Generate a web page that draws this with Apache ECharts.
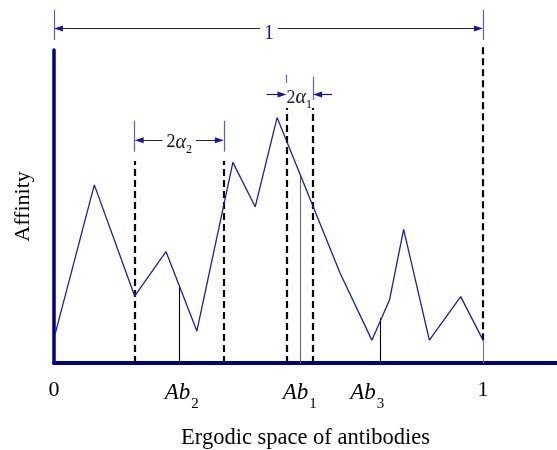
<!DOCTYPE html>
<html>
<head>
<meta charset="utf-8">
<script src="https://cdn.jsdelivr.net/npm/echarts@6/dist/echarts.min.js"></script>
<style>html,body{margin:0;padding:0;background:#fff}#c{width:557px;height:450px}</style>
</head>
<body>
<div id="c"></div>
<script>
// affinity curve over the ergodic space (x: 0..1 is the space width)
const affinityX = [0.002, 0.094, 0.188, 0.261, 0.333, 0.417, 0.469, 0.520, 0.667, 0.741, 0.782, 0.815, 0.875, 0.948, 1.0];
const affinityY = [0.089, 0.569, 0.214, 0.356, 0.102, 0.641, 0.499, 0.784, 0.287, 0.073, 0.201, 0.427, 0.073, 0.212, 0.073];
// dashed boundaries
const dashedX = [0.188, 0.396, 0.542, 0.604, 1.0];
const dashedTop = [0.645, 0.645, 0.815, 0.815, 1.016];
const dashedBottom = [0, 0, 0, 0, 0.073];
// antibody marker lines
const markerX = [0.292, 0.573, 0.761, 1.0];
const markerTop = [0.244, 0.601, 0.144, 0.073];
const markerColor = ['#000', '#666', '#000', '#6a6ac8'];
// tick labels below axis
const tickLabels = ['{n|0}', '{i|Ab}{s|2}', '{i|Ab}{s|1}', '{i|Ab}{s|3}', '{n|1}'];
const tickLabelX = [0, 0.298, 0.573, 0.730, 1.0];
const tickLabelY = -0.088;
// dimension annotations
const dimTicks = [
  [0, 1.128, 1.032], [1.0, 1.128, 1.032],
  [0.188, 0.774, 0.675], [0.396, 0.774, 0.675],
  [0.542, 0.920, 0.895], [0.604, 0.915, 0.840]
];
const arrowsBoth = [[0.0105, 0.9895, 1.069], [0.1985, 0.3855, 0.712]];
const arrowsOne = [[0.496, 0.5315, 0.858], [0.648, 0.6145, 0.858]];
const dimLabels = [
  { text: '{t|1}', x: 0.501, y: 1.051, bg: true },
  { text: '{n|2}{g|α}{s|2}', x: 0.292, y: 0.704, bg: true },
  { text: '{m|2}{g|α}{s|1}', x: 0.5715, y: 0.847, bg: false }
];

const serif = 'Liberation Serif';
const navy = '#00008b';

const chart = echarts.init(document.getElementById('c'), null, { renderer: 'canvas' });
const series = [];

series.push({
  type: 'line',
  data: affinityX.map((x, i) => [x, affinityY[i]]),
  showSymbol: false, symbol: 'none', clip: false, z: 4,
  lineStyle: { color: '#1f1f9e', width: 1.3 },
  animation: false
});

series.push({
  type: 'lines', coordinateSystem: 'cartesian2d', clip: false, z: 3,
  data: dashedX.map((x, i) => ({ coords: [[x, dashedBottom[i]], [x, dashedTop[i]]] })),
  lineStyle: { color: '#000', width: 2.2, type: [7, 4], opacity: 1 },
  animation: false
});

series.push({
  type: 'lines', coordinateSystem: 'cartesian2d', clip: false, z: 3,
  data: markerX.map((x, i) => ({ coords: [[x, 0], [x, markerTop[i]]], lineStyle: { color: markerColor[i] } })),
  lineStyle: { width: 1.1, opacity: 1 },
  animation: false
});

series.push({
  type: 'lines', coordinateSystem: 'cartesian2d', clip: false, z: 3,
  data: dimTicks.map(t => ({ coords: [[t[0], t[1]], [t[0], t[2]]] })),
  lineStyle: { color: '#5c5cc4', width: 1.2, opacity: 1 },
  animation: false
});

series.push({
  type: 'lines', coordinateSystem: 'cartesian2d', clip: false, z: 3,
  symbol: ['triangle', 'triangle'], symbolSize: [[6, 9], [6, 9]],
  data: arrowsBoth.map(a => ({ coords: [[a[0], a[2]], [a[1], a[2]]] })),
  lineStyle: { color: '#1a1a8c', width: 1.2, opacity: 1 },
  animation: false
});

series.push({
  type: 'lines', coordinateSystem: 'cartesian2d', clip: false, z: 3,
  symbol: ['none', 'triangle'], symbolSize: [[6, 9], [6, 9]],
  data: arrowsOne.map(a => ({ coords: [[a[0], a[2]], [a[1], a[2]]] })),
  lineStyle: { color: '#1a1a8c', width: 1.2, opacity: 1 },
  animation: false
});

series.push({
  type: 'scatter', symbolSize: 0, clip: false, z: 6, silent: true,
  itemStyle: { opacity: 1, color: 'transparent' },
  data: tickLabelX.map((x, i) => ({ value: [x, tickLabelY], label: { formatter: tickLabels[i] } })),
  label: {
    show: true, position: 'inside', color: '#000', opacity: 1,
    rich: {
      n: { fontFamily: serif, fontSize: 22, color: '#000' },
      i: { fontFamily: serif, fontSize: 23, fontStyle: 'italic', color: '#000', padding: [4, 0, 0, 0] },
      s: { fontFamily: serif, fontSize: 15, color: '#000', padding: [28, 0, 0, 1] }
    }
  },
  animation: false
});

series.push({
  type: 'scatter', symbolSize: 0, clip: false, z: 7, silent: true,
  itemStyle: { opacity: 1, color: 'transparent' },
  data: dimLabels.map(d => ({
    value: [d.x, d.y],
    label: { formatter: d.text, backgroundColor: d.bg ? '#fff' : 'transparent', padding: d.bg ? [0, 4] : 0 }
  })),
  label: {
    show: true, position: 'inside', color: '#000', opacity: 1,
    rich: {
      t: { fontFamily: serif, fontSize: 20, color: '#1a1a8c' },
      n: { fontFamily: serif, fontSize: 18, color: '#111' },
      m: { fontFamily: serif, fontSize: 18, color: '#1a1a6e' },
      g: { fontFamily: serif, fontSize: 20, fontStyle: 'italic', color: '#111' },
      s: { fontFamily: serif, fontSize: 12, color: '#111', padding: [14, 0, 0, 0] }
    }
  },
  animation: false
});

chart.setOption({
  animation: false,
  backgroundColor: '#fff',
  grid: { left: 54, right: 0, top: 50, bottom: 87, outerBoundsMode: 'none', containLabel: false },
  xAxis: {
    type: 'value', min: 0, max: 503 / 429,
    axisLine: { show: true, lineStyle: { color: navy, width: 4 } },
    axisTick: { show: false }, axisLabel: { show: false }, splitLine: { show: false },
    name: 'Ergodic space of antibodies', nameLocation: 'middle', nameGap: 64,
    nameTextStyle: { fontFamily: serif, fontSize: 22.5, color: '#000' }
  },
  yAxis: {
    type: 'value', min: 0, max: 1,
    axisLine: { show: true, lineStyle: { color: navy, width: 3.5 } },
    axisTick: { show: false }, axisLabel: { show: false }, splitLine: { show: false },
    name: 'Affinity', nameLocation: 'middle', nameGap: 20, nameRotate: 90,
    nameTextStyle: { fontFamily: serif, fontSize: 22, color: '#000' }
  },
  series: series
});
</script>
</body>
</html>
